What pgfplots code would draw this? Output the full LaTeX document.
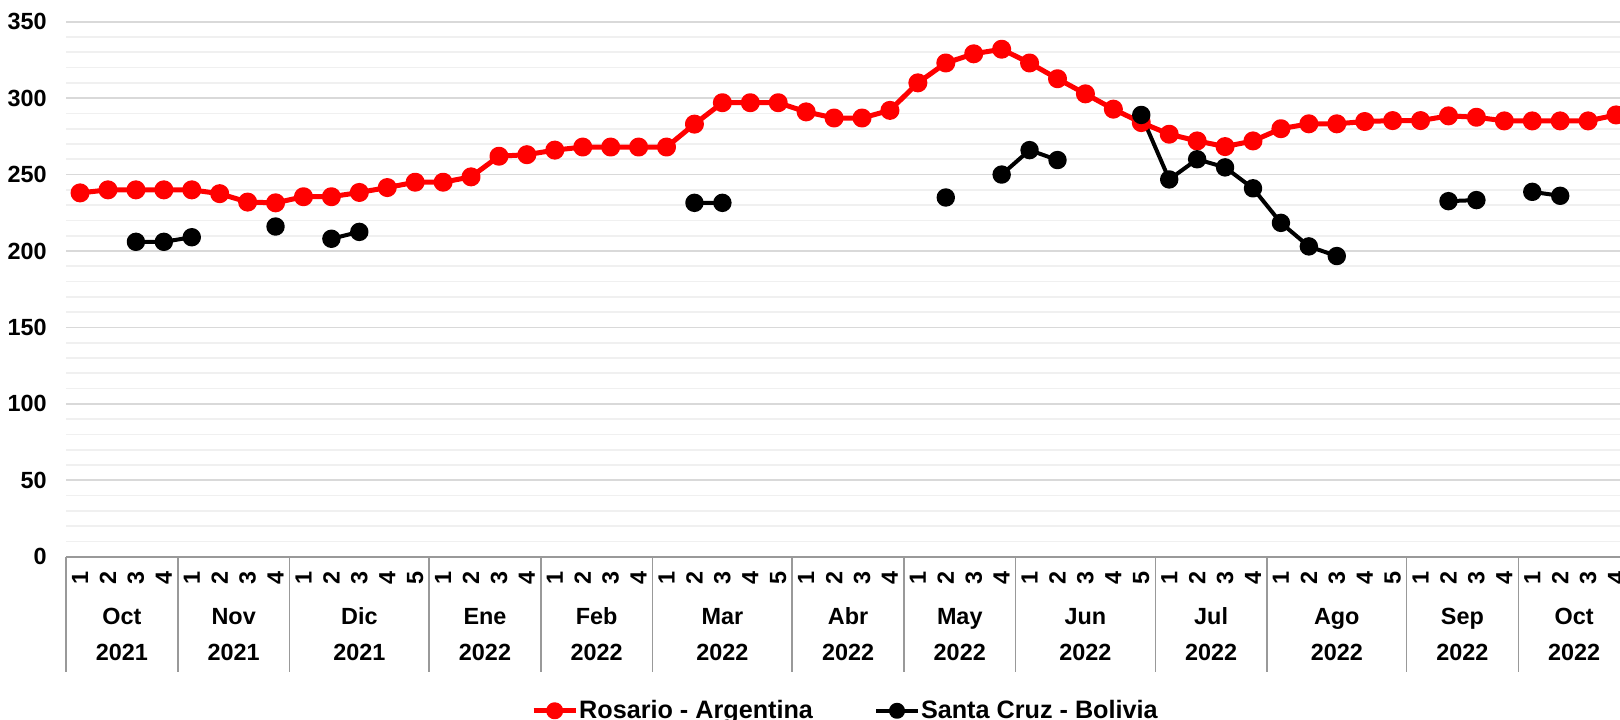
\documentclass[border=0pt]{standalone}
\usepackage{fontspec}
\setmainfont{Liberation Sans}
\usepackage{pgfplots}
\pgfplotsset{compat=1.18}
\usepackage{pgfplotstable}
\definecolor{gridmaj}{HTML}{D9D9D9}
\definecolor{gridmin}{HTML}{F0F0F0}
\definecolor{sepcol}{HTML}{999999}
\newcommand\cf{\fontsize{11.7}{14}\selectfont\bfseries}

\pgfplotstableread{
k red black
0 238 nan
1 240 nan
2 240 206
3 240 206
4 240 209
5 237.5 nan
6 232 nan
7 231.5 216
8 235.5 nan
9 235.5 208
10 238.3 212.5
11 241.5 nan
12 245 nan
13 245 nan
14 248.5 nan
15 262 nan
16 263 nan
17 266 nan
18 268 nan
19 268 nan
20 268 nan
21 268 nan
22 283 231.5
23 297 231.5
24 297 nan
25 297 nan
26 291 nan
27 287 nan
28 287 nan
29 292 nan
30 310 nan
31 323 235
32 329 nan
33 332 250
34 323 266
35 312.7 259.5
36 302.8 nan
37 292.8 nan
38 284 289
39 276.4 246.8
40 272 260
41 268.3 254.7
42 272 241
43 280 218.4
44 283.2 203
45 283.2 196.7
46 284.7 nan
47 285.3 nan
48 285.3 nan
49 288.4 232.6
50 287.5 233.3
51 285.1 nan
52 285.1 238.7
53 285.1 236.1
54 285.1 nan
55 289 nan
}\data

\begin{document}
\begin{tikzpicture}
\begin{axis}[
  width=781.95pt, height=267.5pt, scale only axis,
  xmin=-0.5, xmax=55.5, ymin=0, ymax=350,
  clip=false,
  axis line style={draw=none},
  ytick={0,50,...,350},
  minor ytick={10,20,30,40,60,70,80,90,110,120,130,140,160,170,180,190,210,220,230,240,260,270,280,290,310,320,330,340},
  ymajorgrids, yminorgrids,
  major grid style={draw=gridmaj, line width=0.9pt},
  minor grid style={draw=gridmin, line width=0.9pt},
  tick style={draw=none},
  major tick length=0pt, minor tick length=0pt,
  xtick={0,...,55},
  xticklabels={1,2,3,4,1,2,3,4,1,2,3,4,5,1,2,3,4,1,2,3,4,1,2,3,4,5,1,2,3,4,1,2,3,4,1,2,3,4,5,1,2,3,4,1,2,3,4,5,1,2,3,4,1,2,3,4},
  /pgf/number format/assume math mode=true,
  tick label style={font=\cf},
  yticklabel style={anchor=east, inner sep=0pt, xshift=-9.5pt},
  xticklabel style={anchor=center, inner sep=0pt, yshift=-10.65pt, rotate=90},
  unbounded coords=jump,
  legend columns=2,
  legend style={at={(0.498,-0.2880)}, anchor=center, draw=none, fill=none,
    font=\fontsize{12.6}{14}\selectfont\bfseries,
    nodes={inner xsep=0.5pt, inner ysep=0pt},
    /tikz/every even column/.append style={column sep=30pt}},
  legend image code/.code={\draw[mark repeat=2,mark phase=2,#1,mark size=3pt] plot coordinates {(0pt,0pt) (10.5pt,0pt) (21pt,0pt)};},
]
\addplot[color=red, line width=2.5pt, mark=*, mark size=3.5pt, mark options={solid, fill=red, draw=red}, line join=round] table[x=k, y=red]{\data};
\addlegendentry{Rosario - Argentina}
\addplot[color=black, line width=2pt, mark=*, mark size=3.6pt, mark options={solid, fill=black, draw=black}, line join=round] table[x=k, y=black]{\data};
\addlegendentry{Santa Cruz - Bolivia}

\draw[sepcol, line width=0.9pt] (axis cs:-0.5,0) -- (axis cs:55.5,0);
\pgfplotsinvokeforeach{-0.5,3.5,7.5,12.5,16.5,20.5,25.5,29.5,33.5,38.5,42.5,47.5,51.5}{
  \draw[sepcol, line width=0.75pt] (axis cs:#1,0) -- ([yshift=-57.65pt]axis cs:#1,0);
}
\node[font=\cf, anchor=base] at ([yshift=-33.84pt]axis cs:1.5,0) {Oct};
\node[font=\cf, anchor=base] at ([yshift=-33.84pt]axis cs:5.5,0) {Nov};
\node[font=\cf, anchor=base] at ([yshift=-33.84pt]axis cs:10,0) {Dic};
\node[font=\cf, anchor=base] at ([yshift=-33.84pt]axis cs:14.5,0) {Ene};
\node[font=\cf, anchor=base] at ([yshift=-33.84pt]axis cs:18.5,0) {Feb};
\node[font=\cf, anchor=base] at ([yshift=-33.84pt]axis cs:23,0) {Mar};
\node[font=\cf, anchor=base] at ([yshift=-33.84pt]axis cs:27.5,0) {Abr};
\node[font=\cf, anchor=base] at ([yshift=-33.84pt]axis cs:31.5,0) {May};
\node[font=\cf, anchor=base] at ([yshift=-33.84pt]axis cs:36,0) {Jun};
\node[font=\cf, anchor=base] at ([yshift=-33.84pt]axis cs:40.5,0) {Jul};
\node[font=\cf, anchor=base] at ([yshift=-33.84pt]axis cs:45,0) {Ago};
\node[font=\cf, anchor=base] at ([yshift=-33.84pt]axis cs:49.5,0) {Sep};
\node[font=\cf, anchor=base] at ([yshift=-33.84pt]axis cs:53.5,0) {Oct};
\node[font=\cf, anchor=base] at ([yshift=-51.7pt]axis cs:1.5,0) {2021};
\node[font=\cf, anchor=base] at ([yshift=-51.7pt]axis cs:5.5,0) {2021};
\node[font=\cf, anchor=base] at ([yshift=-51.7pt]axis cs:10,0) {2021};
\node[font=\cf, anchor=base] at ([yshift=-51.7pt]axis cs:14.5,0) {2022};
\node[font=\cf, anchor=base] at ([yshift=-51.7pt]axis cs:18.5,0) {2022};
\node[font=\cf, anchor=base] at ([yshift=-51.7pt]axis cs:23,0) {2022};
\node[font=\cf, anchor=base] at ([yshift=-51.7pt]axis cs:27.5,0) {2022};
\node[font=\cf, anchor=base] at ([yshift=-51.7pt]axis cs:31.5,0) {2022};
\node[font=\cf, anchor=base] at ([yshift=-51.7pt]axis cs:36,0) {2022};
\node[font=\cf, anchor=base] at ([yshift=-51.7pt]axis cs:40.5,0) {2022};
\node[font=\cf, anchor=base] at ([yshift=-51.7pt]axis cs:45,0) {2022};
\node[font=\cf, anchor=base] at ([yshift=-51.7pt]axis cs:49.5,0) {2022};
\node[font=\cf, anchor=base] at ([yshift=-51.7pt]axis cs:53.5,0) {2022};
\coordinate (pl) at (rel axis cs:0,0);
\end{axis}
\pgfresetboundingbox
\path[use as bounding box] ([shift={(-33.05pt,-81.15pt)}]pl) rectangle ([shift={(776.95pt,278.35pt)}]pl);
\end{tikzpicture}
\end{document}
